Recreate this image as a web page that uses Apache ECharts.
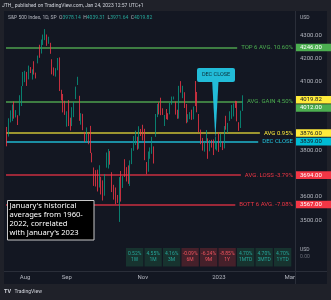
<!DOCTYPE html>
<html><head><meta charset="utf-8">
<script src="https://cdn.jsdelivr.net/npm/echarts@6/dist/echarts.min.js"></script>
<style>html,body{margin:0;padding:0;background:#131722;}#c{width:331px;height:300px;}</style>
</head><body><div id="c"></div><script>
// ---- data ----
const dates = [
'2022-07-18','2022-07-19','2022-07-20','2022-07-21','2022-07-22','2022-07-25','2022-07-26','2022-07-27','2022-07-28','2022-07-29',
'2022-08-01','2022-08-02','2022-08-03','2022-08-04','2022-08-05','2022-08-08','2022-08-09','2022-08-10','2022-08-11','2022-08-12','2022-08-15','2022-08-16','2022-08-17','2022-08-18','2022-08-19','2022-08-22','2022-08-23','2022-08-24','2022-08-25','2022-08-26','2022-08-29','2022-08-30','2022-08-31',
'2022-09-01','2022-09-02','2022-09-06','2022-09-07','2022-09-08','2022-09-09','2022-09-12','2022-09-13','2022-09-14','2022-09-15','2022-09-16','2022-09-19','2022-09-20','2022-09-21','2022-09-22','2022-09-23','2022-09-26','2022-09-27','2022-09-28','2022-09-29','2022-09-30',
'2022-10-03','2022-10-04','2022-10-05','2022-10-06','2022-10-07','2022-10-10','2022-10-11','2022-10-12','2022-10-13','2022-10-14','2022-10-17','2022-10-18','2022-10-19','2022-10-20','2022-10-21','2022-10-24','2022-10-25','2022-10-26','2022-10-27','2022-10-28','2022-10-31',
'2022-11-01','2022-11-02','2022-11-03','2022-11-04','2022-11-07','2022-11-08','2022-11-09','2022-11-10','2022-11-11','2022-11-14','2022-11-15','2022-11-16','2022-11-17','2022-11-18','2022-11-21','2022-11-22','2022-11-23','2022-11-25','2022-11-28','2022-11-29','2022-11-30',
'2022-12-01','2022-12-02','2022-12-05','2022-12-06','2022-12-07','2022-12-08','2022-12-09','2022-12-12','2022-12-13','2022-12-14','2022-12-15','2022-12-16','2022-12-19','2022-12-20','2022-12-21','2022-12-22','2022-12-23','2022-12-27','2022-12-28','2022-12-29','2022-12-30',
'2023-01-03','2023-01-04','2023-01-05','2023-01-06','2023-01-09','2023-01-10','2023-01-11','2023-01-12','2023-01-13','2023-01-17','2023-01-18','2023-01-19','2023-01-20','2023-01-23'
];
const futureDates = ['2023-01-24','2023-01-25','2023-01-26','2023-01-27','2023-01-30','2023-01-31','2023-02-01','2023-02-02','2023-02-03','2023-02-06','2023-02-07','2023-02-08','2023-02-09','2023-02-10','2023-02-13','2023-02-14','2023-02-15','2023-02-16','2023-02-17','2023-02-21','2023-02-22','2023-02-23','2023-02-24','2023-02-27','2023-02-28','2023-03-01','2023-03-02','2023-03-03','2023-03-06'];
const opens = [
3883.79,3860.73,3935.32,3955.47,4007.35,3965.72,3953.22,3951.43,4026.13,4087.33,
4112.38,4104.21,4107.96,4154.85,4115.87,4155.93,4133.11,4181.02,4227.40,4225.02,4269.37,4290.46,4280.40,4273.13,4266.31,4195.08,4133.09,4126.55,4153.26,4198.74,4034.58,4041.25,4000.67,
3936.73,3994.66,3930.89,3909.43,3959.94,4022.94,4083.67,4037.12,3940.73,3932.41,3880.95,3849.91,3875.23,3871.40,3782.36,3727.14,3682.72,3686.44,3651.94,3687.01,3633.48,
3609.78,3726.46,3753.25,3771.97,3706.74,3647.51,3595.86,3590.83,3520.37,3690.41,3638.65,3746.26,3703.11,3689.05,3657.10,3762.01,3799.44,3825.97,3834.69,3808.26,3881.85,
3901.79,3852.90,3733.25,3766.98,3780.71,3817.02,3810.94,3859.89,3963.72,3977.97,4006.41,3976.82,3919.26,3966.39,3956.23,3965.51,4000.30,4023.34,4005.36,3964.19,3957.18,
4087.14,4040.17,4052.02,3996.63,3933.28,3947.79,3954.17,3939.29,4069.38,4015.54,3958.37,3890.91,3853.79,3810.47,3839.49,3853.26,3815.11,3843.34,3829.56,3805.45,3829.06,
3853.29,3840.36,3839.74,3823.37,3910.82,3888.57,3932.35,3977.57,3960.60,3999.28,4002.25,3911.84,3909.04,3978.14
];
const highs = [
3902.44,3939.81,3974.13,3999.29,4012.44,3975.30,3953.22,4039.56,4078.95,4140.15,
4144.95,4140.47,4167.66,4161.29,4151.58,4186.62,4137.30,4211.03,4257.91,4280.47,4301.79,4325.28,4302.18,4292.53,4266.31,4195.08,4159.77,4156.56,4200.54,4203.04,4062.99,4044.98,4015.37,
3970.23,4018.43,3942.55,3987.89,4010.50,4076.81,4119.28,4037.12,3961.94,3959.14,3880.95,3900.45,3876.01,3907.07,3790.68,3727.14,3715.67,3717.53,3736.74,3687.01,3671.44,
3698.35,3791.92,3806.91,3797.93,3706.74,3652.17,3640.66,3608.34,3685.41,3712.00,3689.73,3762.79,3728.58,3736.00,3757.89,3810.74,3862.85,3886.15,3859.95,3905.42,3893.73,
3911.79,3894.44,3750.59,3796.34,3813.95,3859.40,3818.20,3958.33,4001.48,4008.97,4028.84,3983.09,3954.33,3979.89,3962.00,4005.88,4033.78,4034.02,4012.27,3976.77,4080.11,
4100.51,4080.48,4052.45,4001.51,3957.57,3966.67,3977.02,3990.71,4100.96,4053.76,3958.37,3890.91,3854.86,3838.24,3889.28,3853.26,3845.80,3846.65,3848.32,3858.19,3839.85,
3878.46,3873.16,3839.74,3906.19,3950.57,3919.83,3970.07,3997.76,4003.95,4015.39,4014.16,3922.94,3972.96,4039.31
];
const lows = [
3818.63,3860.73,3922.03,3927.64,3938.24,3943.46,3910.74,3951.43,3992.97,4079.22,
4096.02,4079.81,4107.96,4135.42,4107.31,4128.97,4112.09,4177.26,4201.41,4219.78,4256.90,4277.77,4253.08,4261.98,4218.70,4129.86,4124.03,4119.97,4147.59,4057.66,4017.42,3965.21,3954.53,
3903.65,3906.21,3886.75,3906.03,3944.81,4022.94,4083.67,3928.87,3912.21,3888.28,3837.08,3838.50,3827.54,3789.49,3749.45,3647.47,3644.76,3623.29,3640.61,3610.40,3584.13,
3604.93,3726.46,3722.66,3739.22,3620.73,3588.10,3568.45,3573.86,3491.58,3579.68,3638.65,3686.53,3666.51,3656.44,3647.42,3741.65,3799.44,3824.07,3803.79,3808.26,3863.18,
3843.80,3758.68,3698.15,3708.84,3764.70,3786.28,3744.22,3859.89,3944.82,3956.40,3953.17,3954.34,3906.54,3935.98,3933.34,3956.88,3998.66,4020.76,3955.77,3937.65,3938.58,
4050.87,4026.63,3984.49,3918.39,3922.68,3935.83,3933.04,3935.30,3993.03,3965.65,3879.45,3827.91,3800.04,3795.62,3839.49,3764.49,3797.01,3813.22,3780.78,3805.45,3800.34,
3794.33,3815.77,3802.42,3809.56,3890.42,3877.29,3928.54,3937.56,3947.67,3984.57,3926.59,3885.54,3897.86,3971.64
];
const closes = [
3830.85,3936.69,3959.90,3998.95,3961.63,3966.84,3921.05,4023.61,4072.43,4130.29,
4118.63,4091.19,4155.17,4151.94,4145.19,4140.06,4122.47,4210.24,4207.27,4280.15,4297.14,4305.20,4274.04,4283.74,4228.48,4137.99,4128.73,4140.77,4199.12,4057.66,4030.61,3986.16,3955.00,
3966.85,3924.26,3908.19,3979.87,4006.18,4067.36,4110.41,3932.69,3946.01,3901.35,3873.33,3899.89,3855.93,3789.93,3757.99,3693.23,3655.04,3647.29,3719.04,3640.47,3585.62,
3678.43,3790.93,3783.28,3744.52,3639.66,3612.39,3588.84,3577.03,3669.91,3583.07,3677.95,3719.98,3695.16,3665.78,3752.75,3797.34,3859.11,3830.60,3807.30,3901.06,3871.98,
3856.10,3759.69,3719.89,3770.55,3806.80,3828.11,3748.57,3956.37,3992.93,3957.25,3991.73,3958.79,3946.56,3965.34,3949.94,4003.58,4027.26,4026.12,3963.94,3957.63,4080.11,
4076.57,4071.70,3998.84,3941.26,3933.92,3963.51,3934.38,3990.56,4019.65,3995.32,3895.75,3852.36,3817.66,3821.62,3878.44,3822.39,3844.82,3829.25,3783.22,3849.28,3839.50,
3824.14,3852.97,3808.10,3895.08,3892.09,3919.25,3969.61,3983.17,3999.09,3990.97,3928.86,3898.85,3972.61,4019.82
];
const timeTickDates = ['2022-08-01','2022-09-01','2022-11-01','2023-01-03','2023-03-01'];
const timeTickLabels = ['Aug','Sep','Nov','2023','Mar'];
const priceTickLabels = [3500,3600,3800,4100,4200,4300];
const levelValues = [4246, 4012, 3876, 3839, 3694, 3567];
const levelNames = ['TOP 6 AVG. 10.60%','AVG. GAIN 4.50%','AVG 0.95%','DEC CLOSE','AVG. LOSS -3.79%','BOTT 6 AVG. -7.08%'];
const perfValues = [0.52, 4.55, 4.16, -0.09, -6.24, -8.85, 4.70, 4.70, 4.70];
const perfPeriods = ['1W','1M','3M','6M','9M','1Y','1MTD','3MTD','1YTD'];
const noteLines = ["January's historical", "averages from 1960-", "2022, correlated", "with January's 2023"];

// ---- styles ----
const levelStyles = [
  {line:'#3e7d42', text:'#4caf50', tag:'#4caf50', tagText:'#ffffff'},
  {line:'#3e7d42', text:'#4caf50', tag:'#4caf50', tagText:'#ffffff'},
  {line:'#9c9530', text:'#ffeb3b', tag:'#ffeb3b', tagText:'#131722'},
  {line:'#1b8ea3', text:'#22c3dd', tag:'#00bcd4', tagText:'#131722'},
  {line:'#9b2838', text:'#f23645', tag:'#f23645', tagText:'#ffffff'},
  {line:'#9b2838', text:'#f23645', tag:'#f23645', tagText:'#ffffff'}
];
const UP = '#089981', DOWN = '#f23645', BG = '#131722', TXT = '#b2b5be';
const FONT = 'Roboto, "Noto Sans", sans-serif';

const cats = dates.concat(futureDates);
const candles = dates.map((d, i) => [opens[i], closes[i], lows[i], highs[i]]);
const tickMap = {};
timeTickDates.forEach((d, i) => tickMap[d] = timeTickLabels[i]);

const chart = echarts.init(document.getElementById('c'), null, {renderer: 'canvas'});
const GRID_LEFT = 6, GRID_RIGHT_X = 296;
const base = {
  animation: false,
  backgroundColor: BG,
  grid: {left: GRID_LEFT, right: 331 - GRID_RIGHT_X, top: 11.875, height: 254.375},
  xAxis: {
    type: 'category', data: cats, boundaryGap: true,
    axisLine: {show: false}, axisTick: {show: false}, splitLine: {show: false},
    axisLabel: {interval: (i, v) => v in tickMap, formatter: v => tickMap[v] || '',
      color: TXT, fontSize: 6, fontFamily: FONT, margin: 8}
  },
  yAxis: {
    type: 'value', position: 'right', min: 3300, max: 4400, interval: 100,
    splitLine: {show: false}, axisLine: {show: false}, axisTick: {show: false},
    axisLabel: {formatter: v => priceTickLabels.includes(v) ? v.toFixed(2) : '',
      color: TXT, fontSize: 6, fontFamily: FONT, margin: 4}
  },
  series: [{
    type: 'candlestick', data: candles, barWidth: '70%',
    itemStyle: {color: UP, color0: DOWN, borderColor: UP, borderColor0: DOWN, borderWidth: 0.8}
  }]
};
chart.setOption(base);

const py = v => chart.convertToPixel({yAxisIndex: 0}, v);
const px = c => chart.convertToPixel({xAxisIndex: 0}, c);
const mctx = document.createElement('canvas').getContext('2d');
const LFONT = '6px ' + FONT;
mctx.font = LFONT;
const LABEL_RIGHT = 293;

const markData = levelValues.map((v, i) => {
  const w = mctx.measureText(levelNames[i]).width;
  const y = py(v);
  const ls = {color: levelStyles[i].line, width: 1.8, type: 'solid'};
  return [{x: GRID_LEFT, y: y, lineStyle: ls}, {x: LABEL_RIGHT - w - 4, y: y, lineStyle: ls}];
});

const g = [];
// frame strips
g.push({type: 'rect', shape: {x: 0, y: 0, width: 331, height: 11}, style: {fill: '#1f2129'}, z: 50});
g.push({type: 'rect', shape: {x: 0, y: 11, width: 4, height: 289}, style: {fill: '#1f2129'}, z: 50});
g.push({type: 'rect', shape: {x: 0, y: 284, width: 331, height: 16}, style: {fill: '#1f2129'}, z: 50});
g.push({type: 'rect', shape: {x: 327, y: 11, width: 4, height: 289}, style: {fill: '#1f2129'}, z: 50});
g.push({type: 'line', shape: {x1: 295.5, y1: 11, x2: 295.5, y2: 284}, style: {stroke: '#2a2e39', lineWidth: 1}, z: 50});
g.push({type: 'line', shape: {x1: 4, y1: 271.5, x2: 327, y2: 271.5}, style: {stroke: '#2a2e39', lineWidth: 1}, z: 50});
g.push({type: 'text', style: {x: 2, y: 5.5, text: 'JTH_ published on TradingView.com, Jan 24, 2023 12:57 UTC+1',
  font: '5px ' + FONT, fill: '#d1d4dc', verticalAlign: 'middle', textVerticalAlign: 'middle'}, z: 60});
// header
const last = dates.length - 1;
const hc = closes[last] >= opens[last] ? 'g' : 'r';
g.push({type: 'text', style: {x: 8, y: 17.5,
  text: '{a|S&P 500 Index, 1D, SP}  {a|O}{' + hc + '|' + opens[last].toFixed(2) + '}  {a|H}{' + hc + '|' + highs[last].toFixed(2) +
        '}  {a|L}{' + hc + '|' + lows[last].toFixed(2) + '}  {a|C}{' + hc + '|' + closes[last].toFixed(2) + '}',
  font: '5px ' + FONT, verticalAlign: 'middle', textVerticalAlign: 'middle',
  rich: {a: {fill: TXT, font: '5px ' + FONT}, g: {fill: '#26a69a', font: '5px ' + FONT}, r: {fill: DOWN, font: '5px ' + FONT}}}, z: 60});
g.push({type: 'text', style: {x: 300, y: 17.5, text: 'USD', font: '5px ' + FONT, fill: TXT, verticalAlign: 'middle', textVerticalAlign: 'middle'}, z: 60});

// level labels
levelValues.forEach((v, i) => {
  g.push({type: 'text', style: {x: LABEL_RIGHT, y: py(v), text: levelNames[i], font: LFONT, fill: levelStyles[i].text,
    align: 'right', textAlign: 'right', verticalAlign: 'middle', textVerticalAlign: 'middle'}, z: 60});
});
// price tags with simple collision handling
const tags = levelValues.map((v, i) => ({v: v, y: py(v), bg: levelStyles[i].tag, fg: levelStyles[i].tagText}));
tags.push({v: closes[last], y: py(closes[last]), bg: '#ffeb3b', fg: '#131722'});
tags.sort((a, b) => a.y - b.y);
const TAG_H = 8.2;
for (let i = 1; i < tags.length; i++) {
  if (tags[i].y < tags[i - 1].y + TAG_H) tags[i].y = tags[i - 1].y + TAG_H;
}
tags.forEach(t => {
  g.push({type: 'rect', shape: {x: 296, y: t.y - TAG_H / 2 + 0.3, width: 35, height: TAG_H - 0.6}, style: {fill: t.bg}, z: 61});
  g.push({type: 'text', style: {x: 300, y: t.y, text: t.v.toFixed(2), font: LFONT, fill: t.fg,
    verticalAlign: 'middle', textVerticalAlign: 'middle'}, z: 62});
});

// DEC CLOSE callout
const tipX = px('2022-12-29');
const tipY = py(3852);
g.push({type: 'polygon', shape: {points: [[tipX - 3.2, 81], [tipX + 3.2, 81], [tipX, tipY]]}, style: {fill: '#22bcd8'}, z: 63});
g.push({type: 'rect', shape: {x: 197, y: 68, width: 38, height: 14, r: 2}, style: {fill: '#22bcd8'}, z: 63});
g.push({type: 'text', style: {x: 216, y: 75, text: 'DEC CLOSE', font: '5.5px ' + FONT, fill: '#0b2f3a',
  align: 'center', textAlign: 'center', verticalAlign: 'middle', textVerticalAlign: 'middle'}, z: 64});

// note box
g.push({type: 'rect', shape: {x: 7.5, y: 200.5, width: 86.5, height: 39.5}, style: {fill: '#000000', stroke: '#c8c8c8', lineWidth: 1}, z: 63});
noteLines.forEach((t, i) => {
  g.push({type: 'text', style: {x: 9.5, y: 206 + i * 9.1, text: t, font: '7.6px "Noto Sans", sans-serif', fill: '#ffffff',
    verticalAlign: 'middle', textVerticalAlign: 'middle'}, z: 64});
});

// performance table
perfValues.forEach((v, i) => {
  const x = 126 + i * 18.5;
  const pos = v >= 0;
  g.push({type: 'rect', shape: {x: x, y: 248, width: 17.3, height: 18.5}, style: {fill: pos ? '#17332f' : '#45202a'}, z: 60});
  const col = pos ? '#26a69a' : '#f0545f';
  g.push({type: 'text', style: {x: x + 8.65, y: 254, text: v.toFixed(2) + '%', font: '5px ' + FONT, fill: col,
    align: 'center', textAlign: 'center', verticalAlign: 'middle', textVerticalAlign: 'middle'}, z: 61});
  g.push({type: 'text', style: {x: x + 8.65, y: 260, text: perfPeriods[i], font: '5px ' + FONT, fill: col,
    align: 'center', textAlign: 'center', verticalAlign: 'middle', textVerticalAlign: 'middle'}, z: 61});
});
g.push({type: 'text', style: {x: 300, y: 250, text: 'USD', font: '5px ' + FONT, fill: TXT, verticalAlign: 'middle', textVerticalAlign: 'middle'}, z: 60});
g.push({type: 'text', style: {x: 300, y: 257, text: '0.00', font: '5px ' + FONT, fill: '#6a6d78', verticalAlign: 'middle', textVerticalAlign: 'middle'}, z: 60});
// logo
g.push({type: 'text', style: {x: 4, y: 292, text: '{b|TV} {a|TradingView}', verticalAlign: 'middle', textVerticalAlign: 'middle',
  rich: {b: {fill: '#d1d4dc', font: 'bold 5.5px ' + FONT}, a: {fill: '#d1d4dc', font: '5px ' + FONT}}}, z: 60});

chart.setOption({
  series: [{markLine: {symbol: ['none', 'none'], silent: true, label: {show: false}, data: markData, z: 1}}],
  graphic: {elements: g}
});
</script></body></html>
